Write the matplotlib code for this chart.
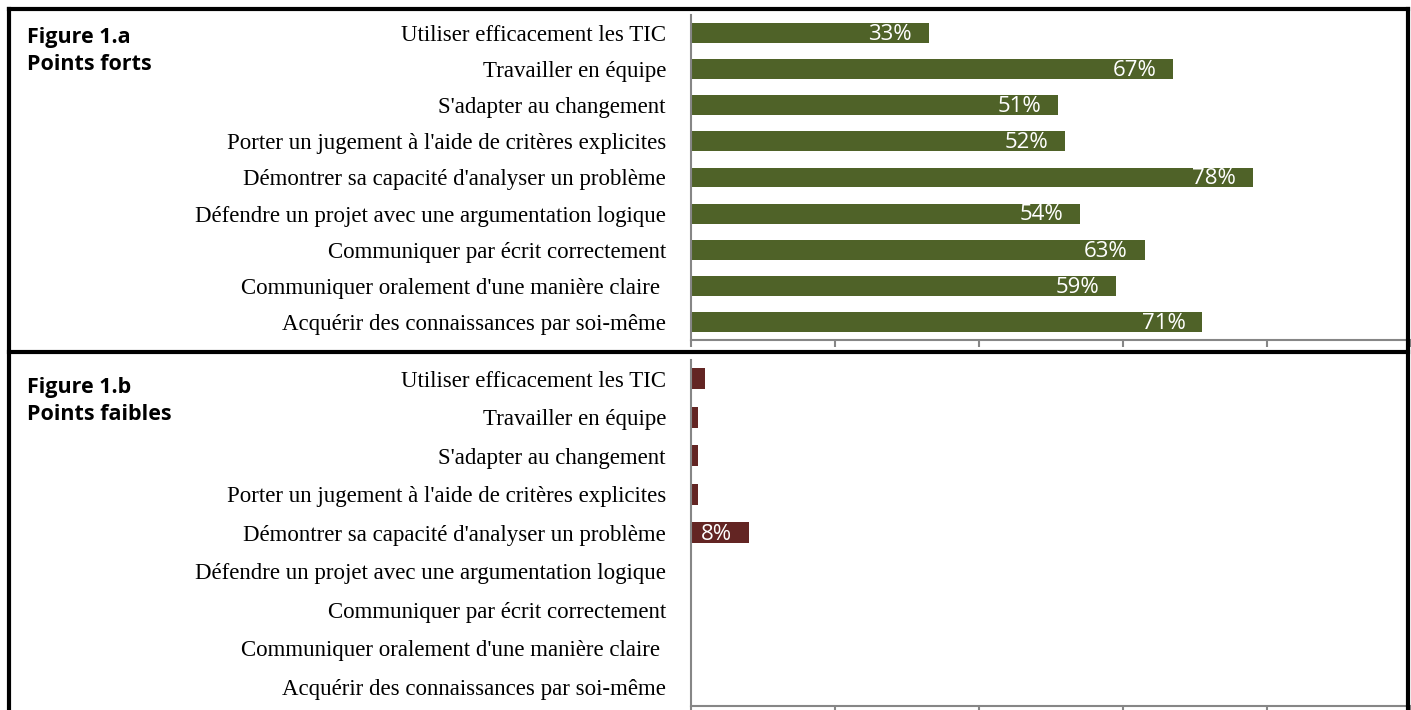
import numpy as np
import matplotlib.pyplot as plt
from matplotlib.lines import Line2D

categories = [
    "Utiliser efficacement les TIC",
    "Travailler en équipe",
    "S'adapter au changement",
    "Porter un jugement à l'aide de critères explicites",
    "Démontrer sa capacité d'analyser un problème",
    "Défendre un projet avec une argumentation logique",
    "Communiquer par écrit correctement",
    "Communiquer oralement d'une manière claire ",
    "Acquérir des connaissances par soi-même",
]
forts = [33, 67, 51, 52, 78, 54, 63, 59, 71]
faibles = [2, 1, 1, 1, 8, 0, 0, 0, 0]

W, H = 1411, 710
fig = plt.figure(figsize=(W / 100, H / 100), dpi=100)

def px_axes(x0, y0, x1, y1):
    return fig.add_axes([x0 / W, 1 - y1 / H, (x1 - x0) / W, (y1 - y0) / H])

def panel(ax, values, color, height):
    y = np.arange(len(categories))
    bars = ax.barh(y, values, height=height, color=color, zorder=2)
    ax.set_xlim(0, 100)
    ax.set_ylim(len(categories) - 0.5, -0.5)
    ax.set_yticks(y)
    ax.set_yticklabels(categories, family="Liberation Serif", fontsize=16.5)
    ax.tick_params(axis="y", length=0, pad=18)
    ax.set_xticks(np.arange(0, 101, 20))
    ax.tick_params(axis="x", direction="out", length=5, width=1.5,
                   color="#868686", labelbottom=False)
    for s in ["top", "right"]:
        ax.spines[s].set_visible(False)
    for s in ["left", "bottom"]:
        ax.spines[s].set_color("#868686")
        ax.spines[s].set_linewidth(1.5)
    for bar, v in zip(bars, values):
        # les étiquettes des très petites barres sont masquées
        if v < 5:
            continue
        ax.annotate(f"{v}%", xy=(v, bar.get_y() + bar.get_height() / 2),
                    xytext=(-12, -1), textcoords="offset points",
                    ha="right", va="center", color="white",
                    family="Open Sans", fontsize=16, zorder=3)

ax1 = px_axes(691, 15, 1411, 340)
panel(ax1, forts, "#4F6228", 0.55)
ax2 = px_axes(691, 359.5, 1411, 706)
panel(ax2, faibles, "#632523", 0.55)

title_kw = dict(family="Open Sans", fontweight="bold", fontsize=15.5,
                ha="left", va="baseline")
fig.text(27 / W, 1 - 43 / H, "Figure 1.a", **title_kw)
fig.text(27 / W, 1 - 70 / H, "Points forts", **title_kw)
fig.text(27 / W, 1 - 393 / H, "Figure 1.b", **title_kw)
fig.text(27 / W, 1 - 420 / H, "Points faibles", **title_kw)

# cadres noirs
lw = 3
for (x0, y0, x1, y1) in [(8.5, 9, 1408, 9), (8.5, 9, 8.5, 710),
                         (1408, 9, 1408, 710), (8.5, 352, 1408, 352)]:
    fig.add_artist(Line2D([x0 / W, x1 / W], [1 - y0 / H, 1 - y1 / H],
                          color="black", lw=lw, transform=fig.transFigure))

fig.savefig("out.png", dpi=100)
